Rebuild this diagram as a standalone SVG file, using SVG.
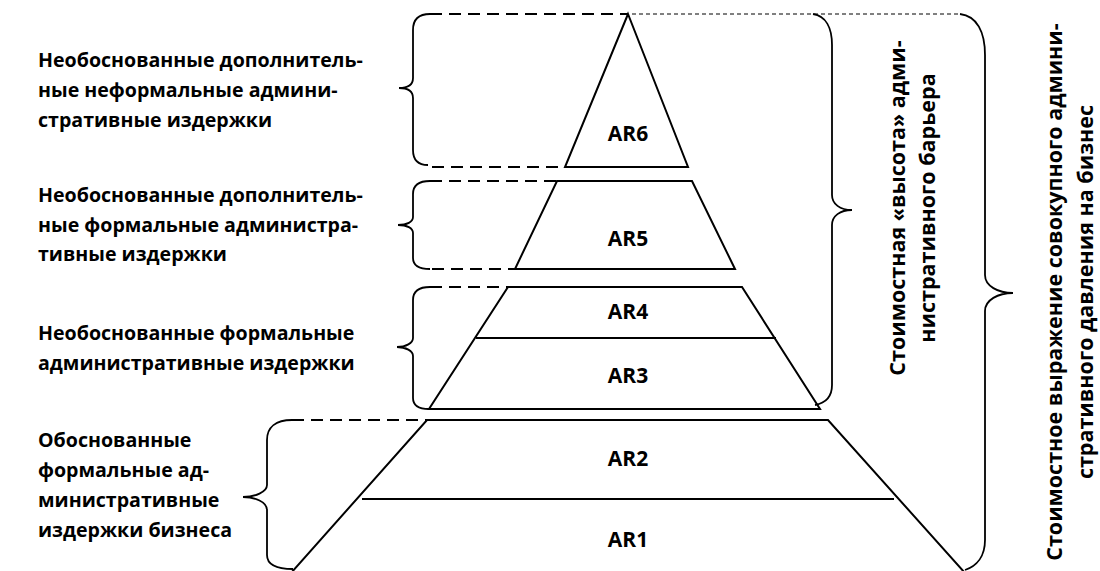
<svg xmlns="http://www.w3.org/2000/svg" width="1100" height="571" viewBox="0 0 1100 571">
<style>
.t{font-family:"Open Sans","DejaVu Sans",sans-serif;font-weight:bold;font-size:19.6px;fill:#000}
.ar{font-family:"Open Sans","DejaVu Sans",sans-serif;font-weight:bold;font-size:21px;fill:#000;text-anchor:middle}
.rt{font-family:"Open Sans","DejaVu Sans",sans-serif;font-weight:bold;font-size:21.5px;fill:#000;text-anchor:middle}
.edge{fill:none;stroke:#000;stroke-width:2}
.brace{fill:none;stroke:#000;stroke-width:1.8}
.dash{fill:none;stroke:#000;stroke-width:2;stroke-dasharray:12 7}
.thin{fill:none;stroke:#000;stroke-width:1;stroke-dasharray:4 3}
</style>
<rect width="1100" height="571" fill="#fff"/>
<g id="ar6">
<polygon points="628,14 688,167 565,167" fill="#a6a6a6" class="edge"/>
<text class="ar" x="628" y="141">AR6</text>
</g>
<g id="ar5">
<polygon points="557,181 692,181 735,269 515,269" fill="#bfbfbf" class="edge"/>
<text class="ar" x="628" y="246">AR5</text>
</g>
<g id="ar43">
<polygon points="508,287 742,287 820,409 429,409" fill="#d9d9d9" class="edge"/>
<line x1="476" y1="338" x2="776" y2="338" class="edge"/>
<text class="ar" x="628" y="319">AR4</text>
<text class="ar" x="628" y="383">AR3</text>
</g>
<g id="ar21">
<polygon points="427,420 828,420 965,573 291,573" fill="#f0f0f0" class="edge"/>
<line x1="362" y1="499" x2="894" y2="499" class="edge"/>
<text class="ar" x="628" y="466">AR2</text>
<text class="ar" x="628" y="547">AR1</text>
</g>
<g id="connectors">
<line x1="430" y1="14" x2="628" y2="14" class="dash"/>
<line x1="432" y1="167" x2="565" y2="167" class="dash"/>
<line x1="430" y1="181" x2="557" y2="181" class="dash"/>
<line x1="432" y1="269" x2="515" y2="269" class="dash"/>
<line x1="430" y1="287" x2="508" y2="287" class="dash"/>
<line x1="292" y1="420" x2="427" y2="420" class="dash"/>
<line x1="632" y1="14" x2="960" y2="14" class="thin"/>
<path class="brace" d="M430,14 C418,14 413,20 413,30 L413,78 C413,85 407,88 399,88 C407,88 413,91 413,98 L413,150 C413,160 418,165 428,165"/>
<path class="brace" d="M430,181 C418,181 413,186 413,194 L413,217 C413,222 407,225 398,225 C407,225 413,228 413,233 L413,258 C413,265 418,269 430,269"/>
<path class="brace" d="M430,287 C418,287 413,292 413,300 L413,338 C413,343 406,347 397,347 C406,347 413,351 413,356 L413,398 C413,405 418,409 429,409"/>
<path class="brace" d="M292,420 C276,420 267,427 267,440 L267,485 C267,492 255,497 243,497 C255,497 267,502 267,510 L267,555 C267,564 276,569 293,569"/>
<path class="brace" d="M813,14 C826,16 832,28 832,45 L832,195 C832,204 840,210 852,210 C840,210 832,216 832,225 L832,385 C832,396 826,403 815,405"/>
<path class="brace" d="M960,14 C977,16 985,32 985,55 L985,275 C985,286 998,293 1013,293 C998,293 985,300 985,311 L985,540 C985,556 977,566 965,570"/>
</g>
<g id="labels">
<text class="t"><tspan x="38" y="67">Необоснованные дополнитель-</tspan><tspan x="38" y="97">ные неформальные админи-</tspan><tspan x="38" y="127">стративные издержки</tspan></text>
<text class="t"><tspan x="38" y="202">Необоснованные дополнитель-</tspan><tspan x="38" y="232">ные формальные администра-</tspan><tspan x="38" y="261">тивные издержки</tspan></text>
<text class="t"><tspan x="38" y="340">Необоснованные формальные</tspan><tspan x="38" y="370">административные издержки</tspan></text>
<text class="t"><tspan x="38" y="447">Обоснованные</tspan><tspan x="38" y="477">формальные ад-</tspan><tspan x="38" y="507">министративные</tspan><tspan x="38" y="537">издержки бизнеса</tspan></text>
<text class="rt" transform="translate(905,208) rotate(-90)"><tspan x="0" y="0">Стоимостная «высота» адми-</tspan><tspan x="0" y="30">нистративного барьера</tspan></text>
<text class="rt" transform="translate(1062,292) rotate(-90)"><tspan x="0" y="0">Стоимостное выражение совокупного админи-</tspan><tspan x="0" y="31">стративного давления на бизнес</tspan></text>
</g>
</svg>
